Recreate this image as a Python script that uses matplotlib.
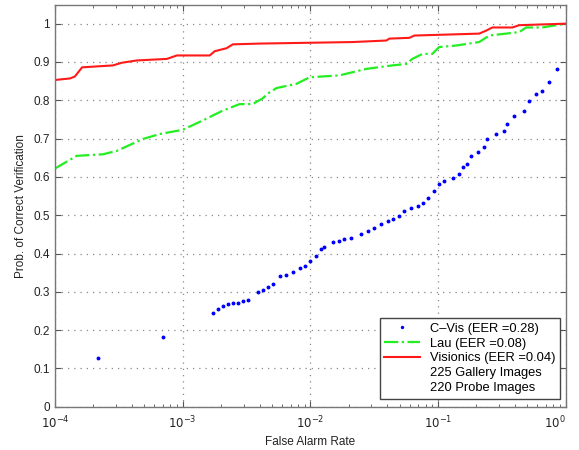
import matplotlib
matplotlib.use('Agg')
import matplotlib.pyplot as plt
from matplotlib.ticker import LogLocator, FixedLocator, NullFormatter

# ROC curves, verification scenario
# C-Vis (dots)
cvis_far = [2.18e-4, 7.03e-4,
            1.73e-3, 1.89e-3, 2.07e-3, 2.26e-3, 2.48e-3, 2.71e-3, 2.97e-3, 3.25e-3,
            3.89e-3, 4.25e-3, 4.65e-3, 5.09e-3, 5.74e-3, 6.48e-3, 7.30e-3, 8.24e-3,
            9.01e-3, 9.86e-3, 0.0111,
            0.0122, 0.0129, 0.0150, 0.0169, 0.0185, 0.0209, 0.0250, 0.0282, 0.0318,
            0.0358, 0.0404, 0.0442, 0.0498, 0.0546, 0.0615, 0.0692, 0.0758, 0.0829,
            0.0935, 0.102,
            0.112, 0.130, 0.147, 0.156, 0.170, 0.181, 0.204, 0.230, 0.244, 0.284,
            0.330, 0.350, 0.395, 0.473, 0.518, 0.583, 0.658, 0.741, 0.861]
cvis_pcv = [0.128, 0.183,
            0.246, 0.255, 0.262, 0.269, 0.272, 0.272, 0.275, 0.280,
            0.299, 0.306, 0.312, 0.321, 0.342, 0.345, 0.351, 0.363, 0.367, 0.380, 0.393,
            0.411, 0.418, 0.430, 0.434, 0.437, 0.441, 0.450, 0.458, 0.467, 0.476,
            0.485, 0.491, 0.498, 0.511, 0.520, 0.524, 0.533, 0.546, 0.563, 0.581,
            0.589, 0.598, 0.607, 0.625, 0.633, 0.655, 0.664, 0.677, 0.699, 0.712,
            0.720, 0.738, 0.760, 0.773, 0.799, 0.817, 0.825, 0.847, 0.882]

# Lau (dash-dot)
lau_far = [1.0e-4, 1.48e-4, 2.37e-4, 3.05e-4, 4.88e-4, 6.62e-4, 1.0e-3, 1.43e-3,
           2.06e-3, 2.79e-3, 3.53e-3, 4.23e-3, 4.80e-3, 5.44e-3, 7.80e-3, 9.86e-3,
           0.0169, 0.0275, 0.0439, 0.0565, 0.0629, 0.0754, 0.0902, 0.102, 0.139,
           0.210, 0.252, 0.433, 0.490, 0.654, 1.0]
lau_pcv = [0.622, 0.655, 0.659, 0.668, 0.699, 0.712, 0.723, 0.747,
           0.773, 0.790, 0.790, 0.805, 0.821, 0.832, 0.843, 0.860,
           0.865, 0.882, 0.891, 0.895, 0.908, 0.921, 0.921, 0.939, 0.943,
           0.952, 0.969, 0.978, 0.990, 0.990, 1.0]

# Visionics (solid)
vis_far = [1.0e-4, 1.31e-4, 1.43e-4, 1.63e-4, 2.84e-4, 3.34e-4, 4.38e-4, 7.52e-4,
           9.0e-4, 1.63e-3, 1.78e-3, 2.21e-3, 2.47e-3, 4.0e-3, 0.0214, 0.0394,
           0.0416, 0.0597, 0.0653, 0.210, 0.239, 0.266, 0.381, 0.433, 1.0]
vis_pcv = [0.853, 0.857, 0.862, 0.886, 0.891, 0.898, 0.904, 0.908,
           0.917, 0.917, 0.928, 0.936, 0.946, 0.948, 0.952, 0.956,
           0.961, 0.963, 0.969, 0.974, 0.982, 0.990, 0.990, 0.996, 1.0]

labels = ['C\u2013Vis (EER =0.28)', 'Lau (EER =0.08)', 'Visionics (EER =0.04)',
          '225 Gallery Images', '220 Probe Images']

plt.rcParams['font.family'] = ['Liberation Sans', 'DejaVu Sans']
plt.rcParams['font.size'] = 8

fig = plt.figure(figsize=(5.79, 4.5), dpi=100)
ax = fig.add_axes([0.095, 0.096, 0.882, 0.894])

h1, = ax.plot(cvis_far, cvis_pcv, linestyle='none', marker='.', markersize=3.6,
              color='#0000ff', label=labels[0])
h2, = ax.plot(lau_far, lau_pcv, linestyle='-.', color='#22ee22', lw=1.6,
              label=labels[1])
h3, = ax.plot(vis_far, vis_pcv, linestyle='-', color='#ff1a1a', lw=1.5,
              label=labels[2])
h4, = ax.plot([], [], linestyle='none', label=labels[3])
h5, = ax.plot([], [], linestyle='none', label=labels[4])

ax.set_xscale('log')
ax.set_xlim(1e-4, 1)
ax.set_ylim(0, 1.05)
ax.xaxis.set_major_locator(FixedLocator([1e-4, 1e-3, 1e-2, 1e-1, 1]))
ax.xaxis.set_minor_locator(LogLocator(base=10, subs=range(2, 10)))
ax.xaxis.set_minor_formatter(NullFormatter())
ax.set_xticklabels(['$10^{-4}$', '$10^{-3}$', '$10^{-2}$', '$10^{-1}$', '$10^{0}$'])
ax.get_xticklabels()[-1].set_horizontalalignment('right')
ax.set_yticks([0, 0.1, 0.2, 0.3, 0.4, 0.5, 0.6, 0.7, 0.8, 0.9, 1.0])
ax.set_yticklabels(['0', '0.1', '0.2', '0.3', '0.4', '0.5', '0.6', '0.7',
                    '0.8', '0.9', '1'])

ax.tick_params(which='both', direction='in', top=True, right=True,
               color='#555555', labelcolor='#222222', labelsize=8.5)
ax.tick_params(which='major', length=4)
ax.tick_params(which='minor', length=2.5)
ax.tick_params(axis='x', which='major', pad=6)
ax.grid(True, which='major', linestyle=(0, (1, 4)), color='#888888', lw=0.9)
for s in ax.spines.values():
    s.set_color('#777777')
    s.set_linewidth(1.0)

ax.set_xlabel('False Alarm Rate', fontsize=8.5, color='#222222', labelpad=3)
ax.set_ylabel('Prob. of Correct Verification', fontsize=8.5, color='#222222',
              labelpad=5)

leg = ax.legend(handles=[h1, h2, h3, h4, h5], loc='lower right',
                bbox_to_anchor=(0.988, 0.02), borderaxespad=0, fontsize=9.3,
                fancybox=False, edgecolor='#444444', framealpha=1,
                borderpad=0.35, labelspacing=0.22, handlelength=2.8,
                handletextpad=0.7, markerscale=0.8)
leg.get_frame().set_linewidth(1.0)

fig.savefig('out.png', dpi=100)
